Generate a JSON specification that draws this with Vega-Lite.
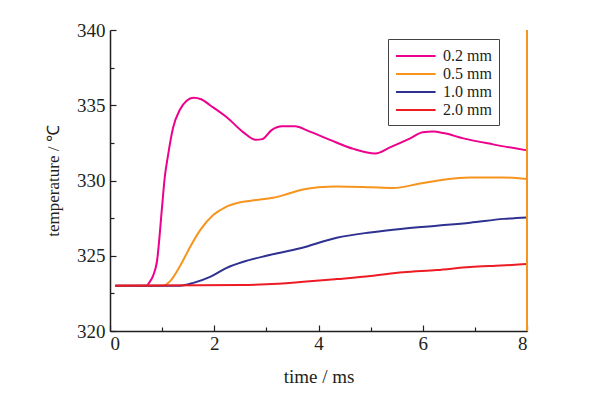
{
  "$schema": "https://vega.github.io/schema/vega-lite/v6.json",
  "width": 417,
  "height": 301,
  "autosize": {"type": "none"},
  "padding": {"left": 110, "top": 30, "right": 72, "bottom": 65},
  "background": "white",
  "config": {
    "view": {"stroke": null},
    "font": "Liberation Serif",
    "axis": {
      "grid": false,
      "domainColor": "#231f20",
      "domainWidth": 1.5,
      "tickColor": "#231f20",
      "tickWidth": 1.2,
      "labelColor": "#231f20",
      "titleColor": "#231f20",
      "labelFont": "Liberation Serif",
      "titleFont": "Liberation Serif",
      "labelFontSize": 19,
      "titleFontSize": 19,
      "titleFontWeight": "normal"
    }
  },
  "data": {
    "values": [
      {"t": 0.1, "T": 323, "d": "0.2 mm"},
      {"t": 0.7, "T": 323, "d": "0.2 mm"},
      {"t": 0.75, "T": 323.2, "d": "0.2 mm"},
      {"t": 0.83, "T": 323.7, "d": "0.2 mm"},
      {"t": 0.9, "T": 324.6, "d": "0.2 mm"},
      {"t": 1.0, "T": 328.3, "d": "0.2 mm"},
      {"t": 1.05, "T": 330.2, "d": "0.2 mm"},
      {"t": 1.11, "T": 331.6, "d": "0.2 mm"},
      {"t": 1.21, "T": 333.5, "d": "0.2 mm"},
      {"t": 1.34, "T": 334.7, "d": "0.2 mm"},
      {"t": 1.47, "T": 335.3, "d": "0.2 mm"},
      {"t": 1.6, "T": 335.5, "d": "0.2 mm"},
      {"t": 1.75, "T": 335.4, "d": "0.2 mm"},
      {"t": 1.92, "T": 335.0, "d": "0.2 mm"},
      {"t": 2.24, "T": 334.2, "d": "0.2 mm"},
      {"t": 2.56, "T": 333.2, "d": "0.2 mm"},
      {"t": 2.8, "T": 332.7, "d": "0.2 mm"},
      {"t": 2.92, "T": 332.75, "d": "0.2 mm"},
      {"t": 3.1, "T": 333.35, "d": "0.2 mm"},
      {"t": 3.3, "T": 333.6, "d": "0.2 mm"},
      {"t": 3.55, "T": 333.6, "d": "0.2 mm"},
      {"t": 3.8, "T": 333.3, "d": "0.2 mm"},
      {"t": 4.22, "T": 332.7, "d": "0.2 mm"},
      {"t": 4.67, "T": 332.1, "d": "0.2 mm"},
      {"t": 5.09, "T": 331.8, "d": "0.2 mm"},
      {"t": 5.37, "T": 332.2, "d": "0.2 mm"},
      {"t": 5.76, "T": 332.8, "d": "0.2 mm"},
      {"t": 6.0, "T": 333.2, "d": "0.2 mm"},
      {"t": 6.2, "T": 333.25, "d": "0.2 mm"},
      {"t": 6.4, "T": 333.15, "d": "0.2 mm"},
      {"t": 6.78, "T": 332.8, "d": "0.2 mm"},
      {"t": 7.35, "T": 332.4, "d": "0.2 mm"},
      {"t": 8.0, "T": 332.0, "d": "0.2 mm"},
      {"t": 0.1, "T": 323, "d": "0.5 mm"},
      {"t": 1.0, "T": 323, "d": "0.5 mm"},
      {"t": 1.15, "T": 323.3, "d": "0.5 mm"},
      {"t": 1.34, "T": 324.3, "d": "0.5 mm"},
      {"t": 1.54, "T": 325.6, "d": "0.5 mm"},
      {"t": 1.73, "T": 326.7, "d": "0.5 mm"},
      {"t": 1.98, "T": 327.7, "d": "0.5 mm"},
      {"t": 2.2, "T": 328.2, "d": "0.5 mm"},
      {"t": 2.5, "T": 328.55, "d": "0.5 mm"},
      {"t": 2.8, "T": 328.7, "d": "0.5 mm"},
      {"t": 3.13, "T": 328.85, "d": "0.5 mm"},
      {"t": 3.4, "T": 329.1, "d": "0.5 mm"},
      {"t": 3.7, "T": 329.4, "d": "0.5 mm"},
      {"t": 4.0, "T": 329.55, "d": "0.5 mm"},
      {"t": 4.35, "T": 329.6, "d": "0.5 mm"},
      {"t": 4.99, "T": 329.55, "d": "0.5 mm"},
      {"t": 5.43, "T": 329.5, "d": "0.5 mm"},
      {"t": 5.95, "T": 329.8, "d": "0.5 mm"},
      {"t": 6.39, "T": 330.05, "d": "0.5 mm"},
      {"t": 6.91, "T": 330.2, "d": "0.5 mm"},
      {"t": 7.55, "T": 330.2, "d": "0.5 mm"},
      {"t": 8.0, "T": 330.1, "d": "0.5 mm"},
      {"t": 0.1, "T": 323, "d": "1.0 mm"},
      {"t": 1.3, "T": 323, "d": "1.0 mm"},
      {"t": 1.6, "T": 323.2, "d": "1.0 mm"},
      {"t": 1.92, "T": 323.6, "d": "1.0 mm"},
      {"t": 2.24, "T": 324.2, "d": "1.0 mm"},
      {"t": 2.56, "T": 324.6, "d": "1.0 mm"},
      {"t": 3.0, "T": 325.0, "d": "1.0 mm"},
      {"t": 3.65, "T": 325.5, "d": "1.0 mm"},
      {"t": 4.35, "T": 326.2, "d": "1.0 mm"},
      {"t": 4.99, "T": 326.55, "d": "1.0 mm"},
      {"t": 5.62, "T": 326.8, "d": "1.0 mm"},
      {"t": 6.27, "T": 327.0, "d": "1.0 mm"},
      {"t": 6.91, "T": 327.2, "d": "1.0 mm"},
      {"t": 7.55, "T": 327.45, "d": "1.0 mm"},
      {"t": 8.0, "T": 327.55, "d": "1.0 mm"},
      {"t": 0.1, "T": 323, "d": "2.0 mm"},
      {"t": 2.5, "T": 323.05, "d": "2.0 mm"},
      {"t": 3.0, "T": 323.1, "d": "2.0 mm"},
      {"t": 3.65, "T": 323.25, "d": "2.0 mm"},
      {"t": 4.35, "T": 323.45, "d": "2.0 mm"},
      {"t": 5.0, "T": 323.65, "d": "2.0 mm"},
      {"t": 5.62, "T": 323.9, "d": "2.0 mm"},
      {"t": 6.27, "T": 324.05, "d": "2.0 mm"},
      {"t": 6.91, "T": 324.25, "d": "2.0 mm"},
      {"t": 7.5, "T": 324.35, "d": "2.0 mm"},
      {"t": 8.0, "T": 324.45, "d": "2.0 mm"}
    ]
  },
  "layer": [
    {
      "mark": {"type": "line", "interpolate": "monotone", "strokeWidth": 2},
      "encoding": {
        "x": {
          "field": "t", "type": "quantitative",
          "scale": {"domain": [0, 8], "nice": false, "zero": false},
          "axis": {
            "title": "time / ms",
            "values": [0, 1, 2, 3, 4, 5, 6, 7, 8],
            "format": ".0f",
            "labelExpr": "datum.value % 2 === 0 ? datum.label : ''",
            "tickSize": {"condition": {"test": "datum.value % 2 === 0", "value": -6}, "value": -4},
            "labelPadding": 9,
            "titlePadding": 14
          }
        },
        "y": {
          "field": "T", "type": "quantitative",
          "scale": {"domain": [320, 340], "nice": false, "zero": false},
          "axis": {
            "title": "temperature / ℃",
            "titleFontSize": 17,
            "values": [320, 322.5, 325, 327.5, 330, 332.5, 335, 337.5, 340],
            "format": ".0f",
            "labelExpr": "datum.value % 5 === 0 ? datum.label : ''",
            "tickSize": {"condition": {"test": "datum.value % 5 === 0", "value": -6}, "value": -4},
            "labelPadding": 11,
            "titlePadding": 14
          }
        },
        "color": {
          "field": "d", "type": "nominal",
          "scale": {
            "domain": ["0.2 mm", "0.5 mm", "1.0 mm", "2.0 mm"],
            "range": ["#ec008c", "#f7941d", "#2e3192", "#ed1c24"]
          },
          "legend": {
            "title": null,
            "orient": "none",
            "legendX": 278,
            "legendY": 9,
            "strokeColor": "#444",
            "fillColor": "white",
            "padding": 7,
            "symbolType": "M-1,0H3.4",
            "symbolSize": 324,
            "symbolStrokeWidth": 2,
            "labelOffset": 28,
            "labelExpr": "datum.label + '\u2003'",
            "labelFont": "Liberation Serif",
            "labelFontSize": 16,
            "labelColor": "#231f20",
            "rowPadding": 0
          }
        }
      }
    },
    {
      "mark": {"type": "rule", "color": "#f7941d", "strokeWidth": 2},
      "encoding": {"x": {"datum": 8}}
    }
  ]
}
